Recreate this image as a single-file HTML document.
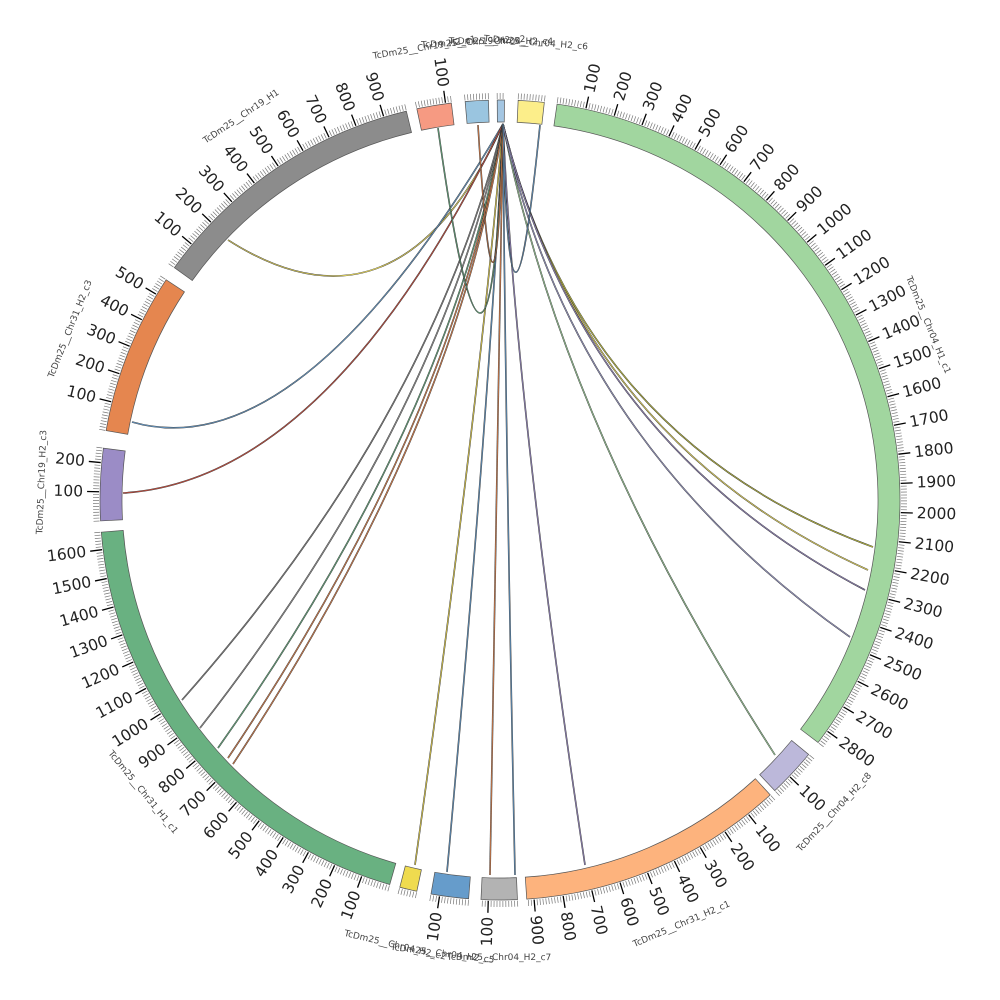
<!DOCTYPE html>
<html><head><meta charset="utf-8"><style>
html,body{margin:0;padding:0;background:#fff}
svg{display:block}
text{font-family:"DejaVu Sans","Liberation Sans",sans-serif}
</style></head><body>
<svg id="s" width="1000" height="1000" viewBox="0 0 1000 1000" xmlns="http://www.w3.org/2000/svg">
<g id="links" fill="none"></g>
<g id="segs"></g>
<g id="ticks"></g>
<g id="labels"></g>
</svg>
<script>
const NS="http://www.w3.org/2000/svg",cx=500,cy=500,ri=378,ro=400,k=0.0418;
function pt(a,r){const t=(a-90)*Math.PI/180;return [cx+r*Math.cos(t),cy+r*Math.sin(t)];}
function el(p,tag,at,txt){const e=document.createElementNS(NS,tag);for(const q in at)e.setAttribute(q,at[q]);if(txt!=null)e.textContent=txt;document.getElementById(p).appendChild(e);return e;}
const segs=[
["TcDm25__Chr04_H1_c1",8.2,2850,"#a1d69f"],
["TcDm25__Chr04_H2_c8",129.5,170,"#bcb8da"],
["TcDm25__Chr31_H2_c1",137.5,925,"#fdb37d"],
["TcDm25__Chr04_H2_c7",177.5,125,"#b3b3b3"],
["TcDm25__Chr04_H2_c5",184.5,130,"#669ccb"],
["TcDm25__Chr04_H2_c2",192,60,"#efdb4f"],
["TcDm25__Chr31_H1_c1",196,1660,"#69b181"],
["TcDm25__Chr19_H2_c3",267,250,"#9b8cc6"],
["TcDm25__Chr31_H2_c3",280,560,"#e5864f"],
["TcDm25__Chr19_H1",305.5,980,"#8c8c8c"],
["TcDm25__Chr19_H2_c1",348,120,"#f69a82"],
["TcDm25__Chr19_H2_c2",355,80,"#9ac5e0"],
["TcDm25__Chr04_H2_c4",359.6,25,"#a4c6e2"],
["TcDm25__Chr04_H2_c6",2.6,90,"#fcee8a"]
];
for(const [n,a0,len,col] of segs){
 const a1=a0+len*k;
 const p1=pt(a0,ro),p2=pt(a1,ro),p3=pt(a1,ri),p4=pt(a0,ri);
 const lg=(a1-a0)>180?1:0;
 el("segs","path",{d:`M${p1}A${ro},${ro} 0 ${lg} 1 ${p2}L${p3}A${ri},${ri} 0 ${lg} 0 ${p4}Z`,fill:col,stroke:"#555","stroke-width":0.7});
 for(let v=0;v<=len;v+=10){
  const a=a0+v*k,maj=v%100==0&&v>0;
  const q1=pt(a,ro+1),q2=pt(a,ro+(maj?13:7));
  el("ticks","line",{x1:q1[0],y1:q1[1],x2:q2[0],y2:q2[1],stroke:maj?"#000":"#777","stroke-width":maj?1.3:0.7});
  if(maj){
   const q=pt(a,ro+17);let an=((a%360)+360)%360;
   let rot,anc;
   if(an<=180){rot=an-90;anc="start";}else{rot=an+90;anc="end";}
   el("ticks","text",{x:q[0],y:q[1],"font-size":15.5,fill:"#222","text-anchor":anc,"dominant-baseline":"central",transform:`rotate(${rot} ${q[0]} ${q[1]})`},String(v));
  }
 }
 const am=a0+len*k/2,r=len>500?462:458;const q=pt(am,r);let an=((am%360)+360)%360;
 let rot=an; if(an>90&&an<270)rot=an+180;
 el("labels","text",{x:q[0],y:q[1],"font-size":9,fill:"#444","text-anchor":"middle","dominant-baseline":"central",transform:`rotate(${rot} ${q[0]} ${q[1]})`},n);
}
const src=[503,124];
const links=[
[[228,240],"#f0e060",[400,350]],
[[132,422],"#6a9fce",[300,470]],
[[123,493],"#d05040",[330,480]],
[[182,700],"#888",[430,420]],
[[200,728],"#999",[440,420]],
[[218,748],"#6ab184",[450,420]],
[[228,758],"#e5864f",[455,420]],
[[233,764],"#e5864f",[460,420]],
[[415,865],"#efdb4f",[480,400]],
[[447,872],"#669ccb",[490,400]],
[[490,875],"#e5864f",[497,400]],
[[515,875],"#669ccb",[505,400]],
[[585,865],"#9b8cc6",[515,400]],
[[775,755],"#a1d69f",[560,420]],
[[873,547],"#cccc40",[580,440]],
[[868,570],"#f0e060",[580,440]],
[[865,590],"#9b8cc6",[580,440]],
[[850,637],"#a0a0d0",[570,440]],
[[438,128],"#6ab184",[490,500]],
[[478,125],"#e5864f",[495,400]],
[[540,125],"#6a9fce",[510,420]],
];
for(const [t,c,cp] of links){
 el("links","path",{d:`M${src}Q${cp} ${t}`,stroke:"#333","stroke-width":1.6});
 el("links","path",{d:`M${src}Q${cp} ${t}`,stroke:c,"stroke-width":0.7});
}
</script>
</body></html>
